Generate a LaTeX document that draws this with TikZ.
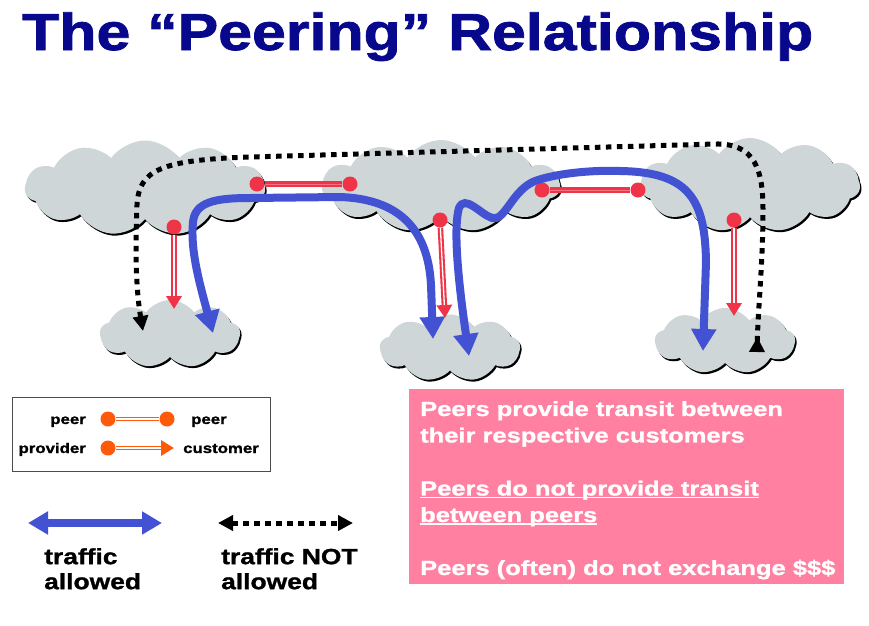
\documentclass[tikz,border=0pt]{standalone}
\usepackage{fontspec}
\usetikzlibrary{arrows.meta,shapes.symbols,shadows}
\newfontfamily\titlefont[FakeStretch=1.17,FakeBold=1.5]{Liberation Sans}
\newfontfamily\heavyfont[FakeStretch=1.2,FakeBold=1.2]{Liberation Sans}
\newfontfamily\notefont[FakeStretch=1.25,FakeBold=1.2]{Liberation Sans}
\definecolor{navy}{RGB}{8,8,140}
\definecolor{cloudgray}{RGB}{206,214,216}
\definecolor{peerred}{RGB}{240,52,72}
\definecolor{trafficblue}{RGB}{66,82,210}
\definecolor{keyorange}{RGB}{255,90,10}
\definecolor{notepink}{RGB}{255,128,160}
\newcommand\ruledline[1]{\setbox0\hbox{#1}\rlap{\rule[-3pt]{\wd0}{1.8pt}}\box0}
\tikzset{
  isp/.style={cloud, cloud puffs=11, cloud puff arc=110, cloud ignores aspect,
    fill=cloudgray, inner sep=0pt,
    general shadow={fill=black, shadow xshift=1.5pt, shadow yshift=-2pt}},
  pdot/.style={circle, fill=#1, inner sep=0pt, minimum size=15pt},
  peerlink/.style={draw=#1, line width=5.5pt,
    postaction={draw=#1!70!white, line width=1pt}},
  provlink/.style={draw=#1, line width=5.5pt, -{Triangle[width=15pt,length=13pt]},
    postaction={draw=white, line width=1.3pt, -, shorten >=13pt}},
  allowed/.style={draw=trafficblue, line width=8pt,
    {Triangle[width=24pt,length=22pt]}-{Triangle[width=24pt,length=22pt]}},
  blocked/.style={draw=black, line width=5pt, dash pattern=on 5.5pt off 5.5pt},
  keytext/.style={inner sep=0pt, font=\heavyfont\bfseries\fontsize{14}{16}\selectfont}
}
\begin{document}
\begin{tikzpicture}[x=1pt, y=-1pt]
    \useasboundingbox (0,0) rectangle (869,625);
    \node[anchor=base west, inner sep=0pt, text=navy] (title) at (22,50)
      {\titlefont\bfseries\fontsize{52}{60}\selectfont The “Peering” Relationship};

    \node[isp, minimum width=240pt, minimum height=95pt] (c1) at (145,188) {};
    \node[isp, minimum width=238pt, minimum height=92pt] (c2) at (441,186) {};
    \node[isp, minimum width=220pt, minimum height=94pt] (c3) at (750,185) {};
    \node[isp, cloud puffs=9, minimum width=140pt, minimum height=68pt] (b1) at (170,334) {};
    \node[isp, cloud puffs=9, minimum width=140pt, minimum height=67pt] (b2) at (450,348) {};
    \node[isp, cloud puffs=9, minimum width=140pt, minimum height=66pt] (b3) at (725,341) {};

    \node[pdot=peerred] (p1) at (257,184) {};
    \node[pdot=peerred] (p2) at (350,184) {};
    \node[pdot=peerred] (p3) at (542,190) {};
    \node[pdot=peerred] (p4) at (638,190) {};
    \node[pdot=peerred] (q1) at (174,227) {};
    \node[pdot=peerred] (q2) at (440,220) {};
    \node[pdot=peerred] (q3) at (734,220) {};
    \coordinate (r1) at (174,309);
    \coordinate (r2) at (445,318);
    \coordinate (r3) at (734,316);
    \draw[peerlink=peerred] (p1) -- (p2);
    \draw[peerlink=peerred] (p3) -- (p4);
    \draw[provlink=peerred] (q1) -- (r1);
    \draw[provlink=peerred] (q2) -- (r2);
    \draw[provlink=peerred] (q3) -- (r3);

    \coordinate (u1) at (213,333);
    \coordinate (u2) at (433,339);
    \coordinate (v1) at (469,356);
    \coordinate (v2) at (703,351);
    \draw[allowed] (u1) .. controls (200,285) and (190,250) .. (193,222)
      .. controls (195,202) and (215,198) .. (250,198) -- (340,197)
      .. controls (398,199) and (428,228) .. (431,285) -- (u2);
    \draw[allowed] (v1) .. controls (461,300) and (452,232) .. (459,208)
      .. controls (465,194) and (480,214) .. (492,218)
      .. controls (505,222) and (512,190) .. (535,181)
      .. controls (560,172) and (600,170) .. (620,171)
      .. controls (690,172) and (705,200) .. (706,262) -- (v2);

    \coordinate (w1) at (143,331);
    \coordinate (w2) at (757,352);
    \draw[blocked, {Triangle[width=15pt,length=15pt]}-{Triangle[width=15pt,length=15pt,reversed]}]
      (w1) .. controls (136,290) and (135,250) .. (137,205)
      .. controls (139,170) and (160,160) .. (250,157) -- (715,144)
      .. controls (755,143) and (763,170) .. (763,210)
      .. controls (763,260) and (758,310) .. (w2);

    \node[draw=black!70, line width=0.8pt, minimum width=258pt, minimum height=74pt] (key) at (141,434) {};
    \node[pdot=keyorange] (k1) at (108,419) {};
    \node[pdot=keyorange] (k2) at (167,419) {};
    \node[pdot=keyorange] (k3) at (108,448) {};
    \coordinate (k4) at (174,448);
    \draw[peerlink=keyorange, line width=4.5pt, postaction={draw=white, line width=1.2pt}] (k1) -- (k2);
    \draw[provlink=keyorange, line width=4.5pt] (k3) -- (k4);
    \node[keytext, anchor=base east] (l1) at (86,424) {peer};
    \node[keytext, anchor=base west] (l2) at (191,424) {peer};
    \node[keytext, anchor=base east] (l3) at (86,453) {provider};
    \node[keytext, anchor=base west] (l4) at (183,453) {customer};

    \coordinate (a1) at (28,523);
    \coordinate (a2) at (162,523);
    \coordinate (n1) at (218,523);
    \coordinate (n2) at (353,523);
    \draw[allowed, {Triangle[width=22pt,length=20pt]}-{Triangle[width=22pt,length=20pt]}] (a1) -- (a2);
    \draw[blocked, {Triangle[width=15pt,length=15pt]}-{Triangle[width=15pt,length=15pt]}] (n1) -- (n2);
    \node[anchor=north west, align=left, inner sep=0pt,
      font=\heavyfont\bfseries\fontsize{22}{25}\selectfont] (t1) at (44,548) {traffic\\allowed};
    \node[anchor=north west, align=left, inner sep=0pt,
      font=\heavyfont\bfseries\fontsize{22}{25}\selectfont] (t2) at (221,548) {traffic NOT\\allowed};

    \node[fill=notepink, anchor=north west, minimum width=435pt, minimum height=195pt] (note) at (409,389) {};
    \node[anchor=north west, align=left, inner sep=0pt, text=white,
      font=\notefont\bfseries\fontsize{20.4}{26.5}\selectfont] (msg) at (420,401)
      {Peers provide transit between\\
       their respective customers\\[26.5pt]
       \ruledline{Peers do not provide transit}\\
       \ruledline{between peers}\\[26.5pt]
       Peers (often) do not exchange \$\$\$};
\end{tikzpicture}
\end{document}
